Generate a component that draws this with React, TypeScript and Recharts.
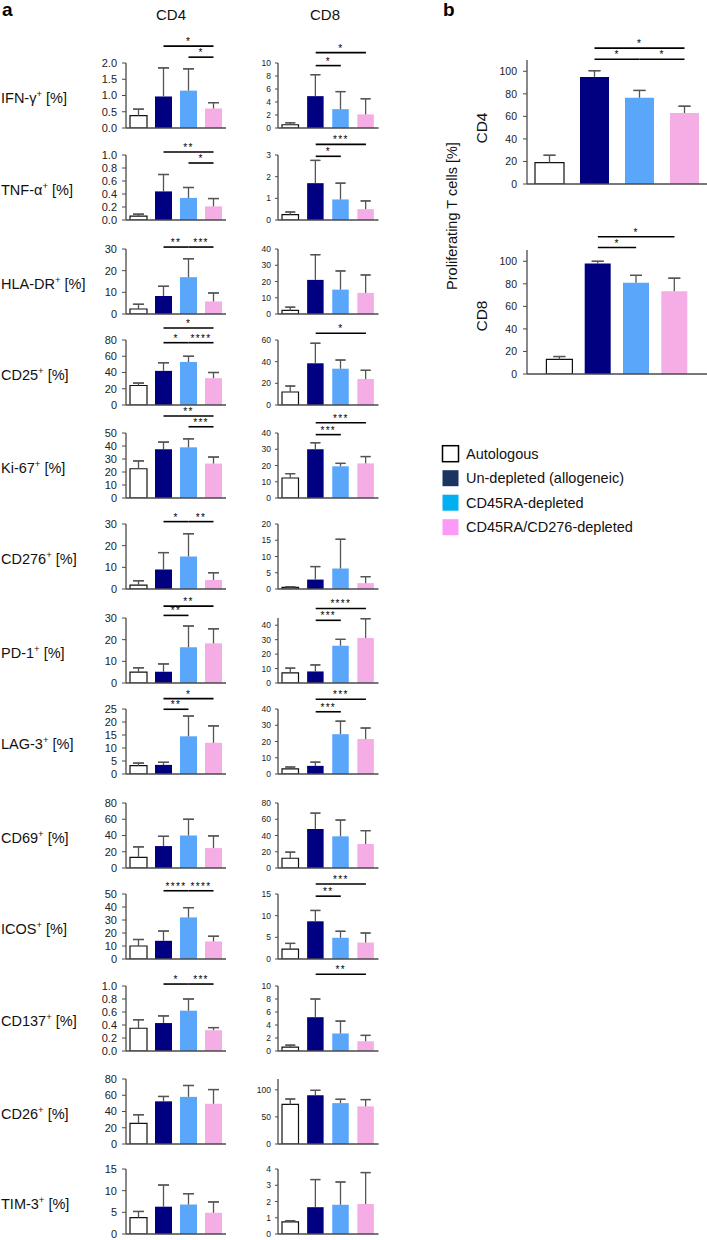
import React from 'react'
import { BarChart, Bar, Cell, XAxis, YAxis, ErrorBar, ReferenceLine } from 'recharts'

// groups (bar order) and colours
const GROUPS = ['Autologous', 'Un-depleted (allogeneic)', 'CD45RA-depleted', 'CD45RA/CD276-depleted']
const BAR_FILL = ['#ffffff', '#000080', '#5aa6fb', '#f5ade6']
const LEGEND_FILL = ['#ffffff', '#1b3563', '#00b0f0', '#fb9bf6']

const MARKERS = ['IFN-γ', 'TNF-α', 'HLA-DR', 'CD25', 'Ki-67', 'CD276', 'PD-1', 'LAG-3', 'CD69', 'ICOS', 'CD137', 'CD26', 'TIM-3']

// panel a, CD4: mean and SD per marker (Auto, Un-depleted, CD45RA-dep, CD45RA/CD276-dep)
const CD4_MEAN = [
  [0.38, 0.97, 1.15, 0.6],
  [0.06, 0.44, 0.34, 0.21],
  [2.3, 8.3, 17, 5.8],
  [24, 42, 53, 33],
  [22.5, 37.5, 39, 26.5],
  [1.8, 9, 15, 4.2],
  [5, 5.2, 16.5, 18.3],
  [3.2, 3.5, 14.5, 12],
  [13, 27, 40, 24.5],
  [10, 14, 32, 13.5],
  [0.35, 0.43, 0.62, 0.32],
  [25.5, 52.5, 58, 49.5],
  [3.8, 6.3, 6.8, 4.9],
]
const CD4_SD = [
  [0.2, 0.88, 0.67, 0.18],
  [0.03, 0.26, 0.16, 0.12],
  [2.2, 4.5, 8.5, 3.9],
  [3, 10, 7, 7],
  [6, 5.5, 6.5, 5],
  [2, 7.8, 10.5, 3.3],
  [2, 3.6, 9.8, 6.7],
  [1, 1, 7.8, 6.5],
  [13, 12, 20, 15],
  [5, 7.5, 7.5, 4],
  [0.13, 0.11, 0.18, 0.04],
  [10.5, 6, 14, 17.5],
  [1.4, 5, 2.5, 2.5],
]
const CD4_TICKS = [
  [0, 0.5, 1, 1.5, 2],
  [0, 0.2, 0.4, 0.6, 0.8, 1],
  [0, 10, 20, 30],
  [0, 20, 40, 60, 80],
  [0, 10, 20, 30, 40, 50],
  [0, 10, 20, 30],
  [0, 10, 20, 30],
  [0, 5, 10, 15, 20, 25],
  [0, 20, 40, 60, 80],
  [0, 10, 20, 30, 40, 50],
  [0, 0.2, 0.4, 0.6, 0.8, 1],
  [0, 20, 40, 60, 80],
  [0, 5, 10, 15],
]
const CD4_MAX = [2, 1, 30, 80, 50, 30, 30, 25, 80, 50, 1, 80, 15]
// significance brackets: [from group, to group, stars, height]
const CD4_SIG = [
  [[1, 3, '*', 2.52], [2, 3, '*', 2.18]],
  [[1, 3, '**', 1.046], [2, 3, '*', 0.877]],
  [[1, 2, '**', 30.9], [2, 3, '***', 30.9]],
  [[1, 3, '*', 94.8], [1, 2, '*', 76.7], [2, 3, '****', 76.7]],
  [[1, 3, '**', 63.1], [2, 3, '***', 54.8]],
  [[1, 2, '*', 31.1], [2, 3, '**', 31.1]],
  [[1, 3, '**', 35.5], [1, 2, '**', 31.2]],
  [[1, 3, '*', 29], [1, 2, '**', 24.9]],
  [],
  [[1, 2, '****', 52.5], [2, 3, '****', 52.5]],
  [[1, 2, '*', 1.03], [2, 3, '***', 1.03]],
  [],
  [],
]

// panel a, CD8
const CD8_MEAN = [
  [0.5, 4.9, 2.9, 2.1],
  [0.25, 1.7, 0.95, 0.5],
  [2.2, 21, 15, 13],
  [12, 38.5, 33.5, 24],
  [12.3, 30, 19.5, 21.3],
  [0.5, 2.9, 6.3, 1.8],
  [7, 8, 25.8, 31.2],
  [3.2, 5, 24.5, 21.5],
  [12, 48, 39, 29.5],
  [2.3, 8.7, 4.9, 3.8],
  [0.6, 5.2, 2.7, 1.5],
  [73, 90, 75.5, 69.5],
  [0.75, 1.65, 1.8, 1.85],
]
const CD8_SD = [
  [0.3, 3.3, 2.7, 2.4],
  [0.12, 1.05, 0.75, 0.38],
  [2, 15.5, 11.5, 11],
  [5.5, 18.5, 8, 8],
  [2.7, 4, 1.8, 4.2],
  [0.2, 4, 9, 2],
  [3.3, 4.5, 4.4, 13.3],
  [1.1, 2.3, 8, 6.8],
  [7.5, 19.5, 20, 16.5],
  [1.3, 2.5, 1.5, 2.2],
  [0.3, 2.8, 1.9, 0.9],
  [10, 9, 7, 12.5],
  [0.07, 1.7, 1.4, 1.93],
]
const CD8_TICKS = [
  [0, 2, 4, 6, 8, 10],
  [0, 1, 2, 3],
  [0, 10, 20, 30, 40],
  [0, 20, 40, 60],
  [0, 10, 20, 30, 40],
  [0, 5, 10, 15, 20],
  [0, 10, 20, 30, 40],
  [0, 10, 20, 30, 40],
  [0, 20, 40, 60, 80],
  [0, 5, 10, 15],
  [0, 2, 4, 6, 8, 10],
  [0, 50, 100],
  [0, 1, 2, 3, 4],
]
const CD8_MAX = [10, 3, 40, 60, 40, 20, 45, 40, 80, 15, 10, 120, 4]
const CD8_SIG = [
  [[1, 3, '*', 11.6], [1, 2, '*', 9.6]],
  [[1, 3, '***', 3.49], [1, 2, '*', 2.94]],
  [],
  [[1, 3, '*', 66.2]],
  [[1, 3, '***', 46.3], [1, 2, '***', 39]],
  [],
  [[1, 3, '****', 51.6], [1, 2, '***', 43.4]],
  [[1, 3, '***', 46], [1, 2, '***', 38.3]],
  [],
  [[1, 3, '***', 17.3], [1, 2, '**', 14.5]],
  [[1, 3, '**', 11.8]],
  [],
  [],
]

// panel b: proliferating T cells
const PROLIF_LABELS = ['CD4', 'CD8']
const PROLIF_MEAN = [
  [19, 95, 76.5, 63],
  [13, 98, 81, 73.5],
]
const PROLIF_SD = [
  [6.5, 5.5, 6.5, 6],
  [2.5, 2, 6.5, 11.5],
]
const PROLIF_TICKS = [0, 20, 40, 60, 80, 100]
const PROLIF_MAX = 110
const PROLIF_SIG = [
  [[1, 3, '*', 120.5], [1, 2, '*', 110.7], [2, 3, '*', 110.7]],
  [[1, 3, '*', 121.7], [1, 2, '*', 112.2]],
]

const ROW_Y = [128, 220, 314, 405, 498, 589, 683, 774, 868, 959, 1051, 1144, 1234]
const FONT = '"Liberation Sans", Arial, sans-serif'
const AXIS = '#4a4a4a'
const ERR = '#555555'

type Sig = (number | string)[]

function Panel(props: {
  mean: number[]
  sd: number[]
  ticks: number[]
  max: number
  sig: Sig[]
  left: number
  zeroY: number
  plotW: number
  plotH: number
  barSize: number
  fontSize: number
  tickSize: number
  tickMargin: number
  cap: number
  pad?: number
  top?: number
}) {
  const { mean, sd, ticks, max, sig, left, zeroY, plotW, plotH, barSize, fontSize, tickSize, tickMargin, cap } = props
  const pad = props.pad ?? 0
  const top = props.top ?? 32
  const bottom = 8
  const yw = 40
  const data = GROUPS.map((g, i) => ({ name: g, value: mean[i], cap: [-sd[i], sd[i]], stem: [0, sd[i]] }))
  const decimals = ticks[1] < 1 ? 1 : 0
  return (
    <div style={{ position: 'absolute', left: left - yw, top: zeroY - plotH - top }}>
      <BarChart
        width={yw + plotW + 3}
        height={top + plotH + 1 + bottom}
        data={data}
        margin={{ top, right: 3, bottom, left: 0 }}
      >
        <XAxis
          dataKey="name"
          tick={false}
          tickLine={false}
          height={1}
          padding={{ left: pad, right: pad }}
          axisLine={{ stroke: AXIS, strokeWidth: 1.3 }}
        />
        <YAxis
          width={yw}
          domain={[0, max]}
          ticks={ticks}
          interval={0}
          allowDataOverflow
          tickFormatter={(v: number) => v.toFixed(decimals)}
          tickSize={tickSize}
          tickMargin={tickMargin}
          tick={{ fontSize, fill: '#222' }}
          tickLine={{ stroke: AXIS, strokeWidth: 1 }}
          axisLine={{ stroke: AXIS, strokeWidth: 1.3 }}
        />
        <Bar dataKey="value" barSize={barSize} isAnimationActive={false}>
          {data.map((d, i) => (
            <Cell key={d.name} fill={BAR_FILL[i]} stroke={i === 0 ? '#111' : 'none'} strokeWidth={1.2} />
          ))}
          <ErrorBar dataKey="stem" width={0} stroke={ERR} strokeWidth={1.3} direction="y" isAnimationActive={false} />
          <ErrorBar dataKey="cap" width={cap} stroke={ERR} strokeWidth={1.3} direction="y" isAnimationActive={false} />
        </Bar>
        {sig.map(([a, b, stars, h], k) => (
          <ReferenceLine
            key={k}
            segment={[
              { x: GROUPS[a as number], y: h as number },
              { x: GROUPS[b as number], y: h as number },
            ]}
            stroke="#000"
            strokeWidth={1.6}
            ifOverflow="visible"
            label={{ value: stars, position: 'top', offset: 1, fontSize: 10, fill: '#000', letterSpacing: 1.3 }}
          />
        ))}
      </BarChart>
    </div>
  )
}

export default function App() {
  return (
    <div
      style={{
        position: 'absolute',
        left: 0,
        top: 0,
        width: 707,
        height: 1240,
        overflow: 'hidden',
        background: '#fff',
        fontFamily: FONT,
      }}
    >
      {MARKERS.map((m, i) => (
        <Panel
          key={'cd4' + m}
          mean={CD4_MEAN[i]}
          sd={CD4_SD[i]}
          ticks={CD4_TICKS[i]}
          max={CD4_MAX[i]}
          sig={CD4_SIG[i]}
          left={126}
          zeroY={ROW_Y[i]}
          plotW={100}
          plotH={65}
          barSize={17}
          fontSize={11}
          tickSize={4}
          tickMargin={5}
          cap={5.5}
        />
      ))}
      {MARKERS.map((m, i) => (
        <Panel
          key={'cd8' + m}
          mean={CD8_MEAN[i]}
          sd={CD8_SD[i]}
          ticks={CD8_TICKS[i]}
          max={CD8_MAX[i]}
          sig={CD8_SIG[i]}
          left={277.5}
          zeroY={ROW_Y[i]}
          plotW={100.5}
          plotH={65}
          barSize={16.5}
          fontSize={8.5}
          tickSize={3}
          tickMargin={4}
          cap={5}
        />
      ))}
      {PROLIF_LABELS.map((p, i) => (
        <Panel
          key={'prolif' + p}
          mean={PROLIF_MEAN[i]}
          sd={PROLIF_SD[i]}
          ticks={PROLIF_TICKS}
          max={PROLIF_MAX}
          sig={PROLIF_SIG[i]}
          left={527}
          zeroY={i === 0 ? 184.3 : 374}
          plotW={180}
          plotH={124}
          barSize={i === 0 ? 29 : 26}
          fontSize={10.5}
          tickSize={4}
          tickMargin={6}
          cap={6}
          pad={i === 0 ? 0 : 13.4}
          top={40}
        />
      ))}

      <svg
        width={707}
        height={1240}
        style={{ position: 'absolute', left: 0, top: 0, pointerEvents: 'none' }}
        fontFamily={FONT}
      >
        <text x={2} y={16} fontSize={19} fontWeight="bold" fill="#000">a</text>
        <text x={443} y={16} fontSize={19} fontWeight="bold" fill="#000">b</text>
        <text x={171} y={20} fontSize={15} textAnchor="middle" fill="#111">CD4</text>
        <text x={325} y={20} fontSize={15} textAnchor="middle" fill="#111">CD8</text>

        {MARKERS.map((m, i) => (
          <text key={m} x={1} y={ROW_Y[i] - 25} fontSize={14.5} fill="#111">
            {m}
            <tspan fontSize={9.5} dy={-6}>+</tspan>
            <tspan dy={6}> [%]</tspan>
          </text>
        ))}

        <text x={457} y={216} fontSize={14.5} textAnchor="middle" fill="#111" transform="rotate(-90 457 216)">
          Proliferating T cells [%]
        </text>
        {PROLIF_LABELS.map((p, i) => {
          const cy = i === 0 ? 128 : 316
          return (
            <text key={p} x={487} y={cy} fontSize={15.5} textAnchor="middle" fill="#111" transform={`rotate(-90 487 ${cy})`}>
              {p}
            </text>
          )
        })}

        {GROUPS.map((g, i) => {
          const cy = 453.7 + i * 24.5
          return (
            <g key={g}>
              <rect
                x={442.5}
                y={cy - 8}
                width={16}
                height={16}
                fill={LEGEND_FILL[i]}
                stroke={i === 0 ? '#000' : 'none'}
                strokeWidth={1.5}
              />
              <text x={466} y={cy + 5} fontSize={14.5} fill="#111">{g}</text>
            </g>
          )
        })}
      </svg>
    </div>
  )
}
